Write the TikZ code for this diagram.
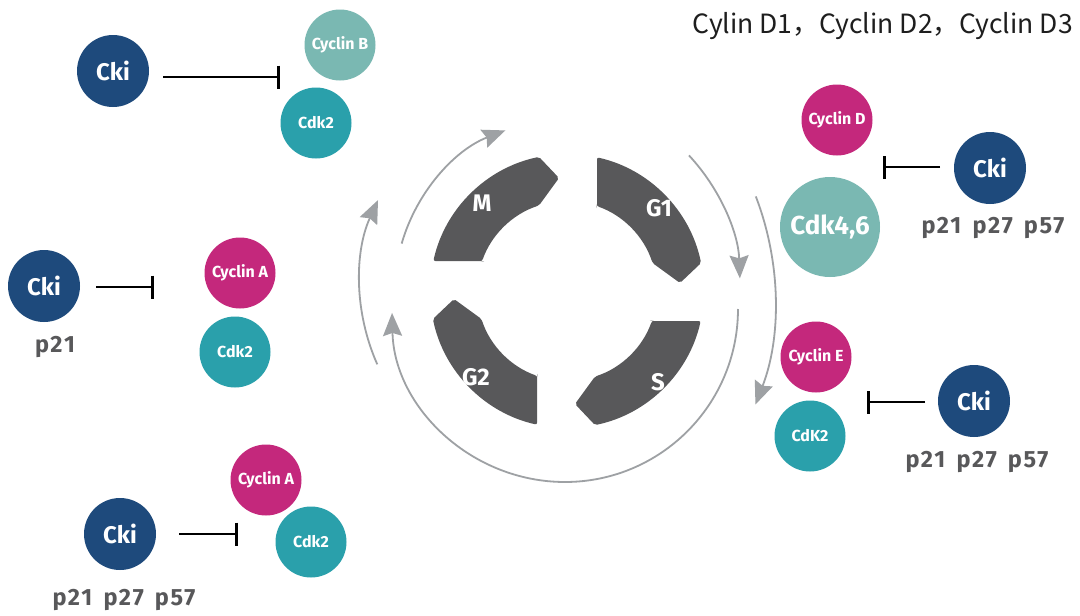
\documentclass[tikz,border=0pt]{standalone}
\usepackage{fontspec}
\setmainfont{Fira Sans}
\newfontfamily\cjkfont{Noto Sans CJK SC}
\newfontfamily\plabfont[LetterSpace=8,WordSpace=1.5]{Fira Sans}
\usetikzlibrary{arrows.meta}
\definecolor{ckiblue}{RGB}{30,74,124}
\definecolor{lteal}{RGB}{122,184,178}
\definecolor{cdkteal}{RGB}{42,160,171}
\definecolor{cycmag}{RGB}{196,40,124}
\definecolor{phasegray}{RGB}{88,88,90}
\definecolor{arrgray}{RGB}{158,161,164}
\definecolor{ptext}{RGB}{88,88,90}
\definecolor{titlegray}{RGB}{30,30,30}
\begin{document}
\begin{tikzpicture}[x=1pt,y=-1pt,
  ball/.style={circle, inner sep=0pt, minimum size=#1, text=white},
  ball/.default=71pt,
  ckiball/.style={ball=72pt, fill=ckiblue, font=\bfseries\fontsize{24}{26}\selectfont},
  cycball/.style={ball, fill=cycmag, font=\bfseries\fontsize{16}{18}\selectfont},
  cdkball/.style={ball, fill=cdkteal, font=\bfseries\fontsize{16}{18}\selectfont},
  ltball/.style={ball, fill=lteal, font=\bfseries\fontsize{16}{18}\selectfont},
  plabel/.style={text=ptext, anchor=base, inner sep=0pt, font=\plabfont\bfseries\fontsize{23.5}{26}\selectfont},
  phaselabel/.style={text=white, font=\bfseries\fontsize{24}{26}\selectfont},
  inhib/.style={line width=2pt, -{Bar[width=23pt, line width=2.6pt]}},
  cyc/.style={draw=arrgray, line width=1.8pt, -{Stealth[length=23pt, width=19pt, inset=3pt, fill=arrgray]}}
]
\useasboundingbox (0,0) rectangle (1080,616);
\fill[white] (0,0) rectangle (1080,616);

% title
\node[anchor=base east, inner sep=0pt, text=titlegray, font=\cjkfont\fontsize{26.5}{28}\selectfont] (title) at (1073,33) {Cylin D1，Cyclin D2，Cyclin D3};

% cell cycle phase blocks
\begin{scope}[shift={(567,291)}, yscale=-1]
  \foreach \a in {0,90,180,270} {
    \fill[phasegray, rotate=\a, rounded corners=2pt]
      (30,84.85) -- (30,133.68) arc[start angle=77.35, end angle=11.79, radius=137]
      -- (113,8) -- (85.53,28) arc[start angle=18.13, end angle=70.53, radius=90] -- cycle;
  }
\end{scope}
\node[phaselabel] (lm) at (482,203) {M};
\node[phaselabel] (lg1) at (659,208) {G1};
\node[phaselabel] (lg2) at (476,377) {G2};
\node[phaselabel] (ls) at (658,382) {S};

% cycle arrows
\draw[cyc] ([shift={(-164:172)}]567,291) arc[start angle=-164, end angle=-111, radius=172];
\draw[cyc] ([shift={(-204:200)}]560,283) arc[start angle=-204, end angle=-155.5, radius=200];
\draw[cyc] ([shift={(0:173)}]565,309) arc[start angle=0, end angle=178.7, radius=173];
\draw[cyc] ([shift={(-43:190)}]550,285) arc[start angle=-43, end angle=-2, radius=190];
\draw[cyc] ([shift={(-21:289)}]486,300) arc[start angle=-21, end angle=21.2, radius=289];

% group 1: top left
\node[ckiball] (cki1) at (113,71) {Cki};
\node[ltball] (cycB) at (340,45) {Cyclin B};
\node[cdkball] (cdk2a) at (316,123) {Cdk2};
\coordinate (s1) at (163,77);
\coordinate (e1) at (280,77);
\draw[inhib] (s1) -- (e1);

% group 2: middle left
\node[ckiball] (cki2) at (44,286) {Cki};
\node[plabel] (p2) at (55,352) {p21};
\node[cycball] (cycA1) at (240,273) {Cyclin A};
\node[cdkball] (cdk2b) at (235,352) {Cdk2};
\coordinate (s2) at (96,287);
\coordinate (e2) at (154,287);
\draw[inhib] (s2) -- (e2);

% group 3: bottom left
\node[ckiball] (cki3) at (120,534) {Cki};
\node[plabel] (p3) at (124,605) {p21 p27 p57};
\node[cycball] (cycA2) at (266,480) {Cyclin A};
\node[cdkball] (cdk2c) at (311,542) {Cdk2};
\coordinate (s3) at (179,534);
\coordinate (e3) at (238,534);
\draw[inhib] (s3) -- (e3);

% group 4: top right
\node[cycball] (cycD) at (837,120) {Cyclin D};
\node[ltball, minimum size=100pt, font=\bfseries\fontsize{26}{28}\selectfont] (cdk46) at (830,227) {Cdk4,6};
\node[ckiball] (cki4) at (990,168) {Cki};
\node[plabel] (p4) at (993,233) {p21 p27 p57};
\coordinate (s4) at (940,167);
\coordinate (e4) at (883,167);
\draw[inhib] (s4) -- (e4);

% group 5: bottom right
\node[cycball] (cycE) at (816,357) {Cyclin E};
\node[cdkball] (cdk2d) at (810,436) {CdK2};
\node[ckiball] (cki5) at (974,401) {Cki};
\node[plabel] (p5) at (977,467) {p21 p27 p57};
\coordinate (s5) at (925,402);
\coordinate (e5) at (867,402);
\draw[inhib] (s5) -- (e5);
\end{tikzpicture}
\end{document}
